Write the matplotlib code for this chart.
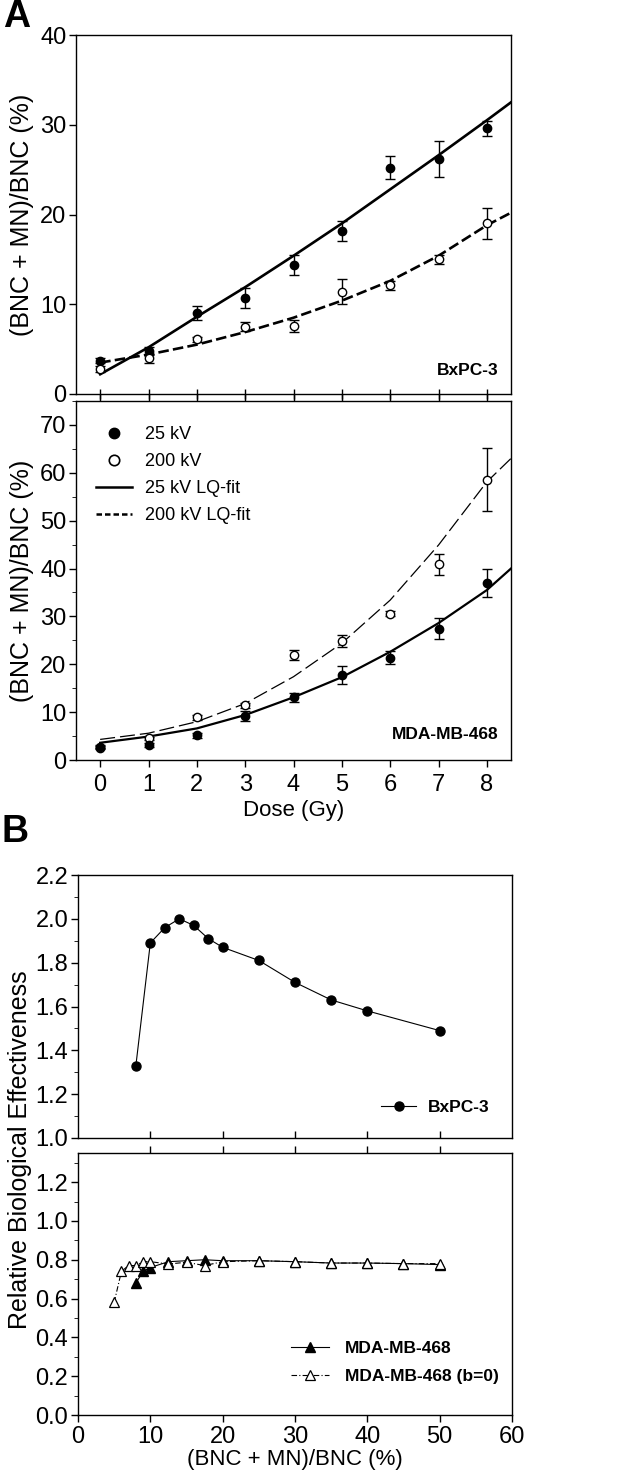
import numpy as np
import matplotlib.pyplot as plt
from matplotlib.lines import Line2D
from matplotlib.ticker import MultipleLocator

plt.rcParams['font.family'] = ['Liberation Sans', 'DejaVu Sans']

# ---- panel A data: dose response ----
dose = [0, 1, 2, 3, 4, 5, 6, 7, 8]
fit_dose = [0, 1, 2, 3, 4, 5, 6, 7, 8, 8.5]

# BxPC-3
bx_25 = [3.7, 4.8, 9.0, 10.7, 14.4, 18.2, 25.2, 26.2, 29.6]
bx_25_err = [0.3, 0.4, 0.8, 1.1, 1.1, 1.1, 1.3, 2.0, 0.8]
bx_200 = [2.8, 4.0, 6.1, 7.5, 7.6, 11.4, 12.1, 15.0, 19.0]
bx_200_err = [0.3, 0.5, 0.3, 0.5, 0.7, 1.4, 0.5, 0.5, 1.7]
bx_25_fit = [2.2, 5.2, 8.6, 11.9, 15.4, 19.0, 22.8, 26.6, 30.5, 32.5]
bx_200_fit = [3.5, 4.4, 5.5, 6.9, 8.5, 10.4, 12.6, 15.4, 18.8, 20.2]

# MDA-MB-468
md_25 = [2.8, 3.1, 5.2, 9.2, 13.1, 17.8, 21.4, 27.4, 36.9]
md_25_err = [0.3, 0.4, 0.5, 1.0, 1.0, 1.9, 1.3, 2.2, 2.9]
md_200 = [2.6, 4.5, 8.9, 11.4, 21.9, 24.9, 30.6, 40.9, 58.6]
md_200_err = [0.3, 0.4, 0.6, 0.6, 1.0, 1.3, 0.5, 2.2, 6.5]
md_25_fit = [3.6, 4.9, 6.6, 9.4, 13.1, 17.3, 22.6, 28.6, 35.5, 40.0]
md_200_fit = [4.3, 5.6, 8.0, 11.8, 17.4, 24.4, 33.4, 44.9, 58.1, 63.0]

# ---- panel B data: RBE vs effect level ----
bx_level = [8, 10, 12, 14, 16, 18, 20, 25, 30, 35, 40, 50]
bx_rbe = [1.33, 1.89, 1.96, 2.00, 1.97, 1.91, 1.87, 1.81, 1.71, 1.63, 1.58, 1.49]

md_level = [8, 9, 10, 12.5, 15, 17.5, 20, 25, 30, 35, 40, 45, 50]
md_rbe = [0.68, 0.74, 0.76, 0.79, 0.795, 0.80, 0.795, 0.795, 0.79, 0.783, 0.783, 0.78, 0.775]

md0_level = [5, 6, 7, 8, 9, 10, 12.5, 15, 17.5, 20, 25, 30, 35, 40, 45, 50]
md0_rbe = [0.58, 0.74, 0.77, 0.77, 0.79, 0.79, 0.778, 0.787, 0.77, 0.79, 0.795, 0.79,
           0.783, 0.783, 0.78, 0.78]

W, H = 644, 1484
fig = plt.figure(figsize=(W / 100, H / 100), dpi=100)


def box(l, t, r, b):
    return [l / W, 1 - b / H, (r - l) / W, (b - t) / H]


ax1 = fig.add_axes(box(76, 35, 511, 394))
ax2 = fig.add_axes(box(76, 401, 511, 760))
ax3 = fig.add_axes(box(78, 875, 512, 1138))
ax4 = fig.add_axes(box(78, 1153, 512, 1415))

fs = 17       # tick labels
lab_fs = 16   # horizontal axis titles
ylab_fs = 18  # rotated axis titles
ebkw = dict(fmt='none', ecolor='black', elinewidth=1.0, capsize=3.5, capthick=1.0, zorder=3)

# A top
ax1.errorbar(dose, bx_25, yerr=bx_25_err, **ebkw)
ax1.errorbar(dose, bx_200, yerr=bx_200_err, **ebkw)
ax1.plot(fit_dose, bx_25_fit, color='black', lw=1.9, zorder=2)
ax1.plot(fit_dose, bx_200_fit, color='black', lw=1.9, dashes=(4, 1.6), zorder=2)
ax1.plot(dose, bx_25, 'o', ms=6, mfc='black', mec='black', zorder=4)
ax1.plot(dose, bx_200, 'o', ms=6, mfc='white', mec='black', mew=1.0, zorder=4)
ax1.set_xlim(-0.5, 8.5)
ax1.set_ylim(0, 40)
ax1.set_yticks([0, 10, 20, 30, 40])
ax1.set_xticks(dose)
ax1.tick_params(axis='x', direction='inout', length=7, labelbottom=False)
ax1.tick_params(axis='y', direction='out', length=5, labelsize=fs, pad=2)
ax1.text(8.25, 2.6, 'BxPC-3', fontsize=12.5, fontweight='bold', ha='right', va='center')

# A bottom
ax2.errorbar(dose, md_25, yerr=md_25_err, **ebkw)
ax2.errorbar(dose, md_200, yerr=md_200_err, **ebkw)
ax2.plot(fit_dose, md_25_fit, color='black', lw=1.6, zorder=2)
ax2.plot(fit_dose, md_200_fit, color='black', lw=0.9, dashes=(12, 4), zorder=2)
ax2.plot(dose, md_200, 'o', ms=6, mfc='white', mec='black', mew=1.0, zorder=4)
ax2.plot(dose, md_25, 'o', ms=6, mfc='black', mec='black', zorder=4)
ax2.set_xlim(-0.5, 8.5)
ax2.set_ylim(0, 75)
ax2.set_yticks([0, 10, 20, 30, 40, 50, 60, 70])
ax2.yaxis.set_minor_locator(MultipleLocator(5))
ax2.set_xticks(dose)
ax2.tick_params(axis='x', direction='out', length=5, labelsize=fs, top=True, pad=5)
ax2.tick_params(axis='y', which='both', direction='out', labelsize=fs, pad=2)
ax2.tick_params(axis='y', which='major', length=5)
ax2.tick_params(axis='y', which='minor', length=3)
for t in ax2.xaxis.get_major_ticks():
    t.tick2line.set_marker(3)
    t.tick2line.set_markersize(5)
ax2.set_xlabel('Dose (Gy)', fontsize=lab_fs, labelpad=3)
ax2.text(8.25, 5.3, 'MDA-MB-468', fontsize=12.5, fontweight='bold', ha='right', va='center')

handles = [
    Line2D([], [], ls='none', marker='o', ms=7.5, mfc='black', mec='black'),
    Line2D([], [], ls='none', marker='o', ms=7.5, mfc='white', mec='black', mew=1.2),
    Line2D([], [], color='black', lw=1.8),
    Line2D([], [], color='black', lw=1.8, dashes=(2.2, 1.2)),
]
ax2.legend(handles, ['25 kV', '200 kV', '25 kV LQ-fit', '200 kV LQ-fit'],
           loc='upper left', bbox_to_anchor=(0.03, 0.95), frameon=False,
           fontsize=13, handlelength=2.0, handletextpad=0.7, labelspacing=0.55,
           borderaxespad=0)

for ax in (ax1, ax2):
    ax.set_ylabel('(BNC + MN)/BNC (%)', fontsize=ylab_fs, labelpad=4)

# B top
ax3.plot(bx_level, bx_rbe, '-o', color='black', lw=0.8, ms=6.5, label='BxPC-3')
ax3.set_xlim(0, 60)
ax3.set_ylim(1.0, 2.2)
ax3.set_yticks([1.0, 1.2, 1.4, 1.6, 1.8, 2.0, 2.2])
ax3.yaxis.set_major_formatter(plt.FormatStrFormatter('%.1f'))
ax3.yaxis.set_minor_locator(MultipleLocator(0.1))
ax3.set_xticks([10, 20, 30, 40, 50])
ax3.tick_params(axis='x', direction='in', length=5, labelbottom=False)
ax3.tick_params(axis='y', which='both', direction='out', labelsize=fs, pad=2)
ax3.tick_params(axis='y', which='major', length=5)
ax3.tick_params(axis='y', which='minor', length=3)
ax3.legend(loc='lower right', bbox_to_anchor=(0.965, 0.06), frameon=False,
           prop={'size': 12.5, 'weight': 'bold'}, handlelength=2.0, handletextpad=0.7,
           borderaxespad=0)

# B bottom
ax4.plot(md_level, md_rbe, '-^', color='black', lw=0.8, ms=6.5, mfc='black',
         label='MDA-MB-468', zorder=2)
ax4.plot(md0_level, md0_rbe, '^', color='black', lw=0.8, ms=6.5, mfc='white',
         mew=0.9, ls=(0, (5, 2, 1, 2)), label='MDA-MB-468 (b=0)', zorder=3)
ax4.set_xlim(0, 60)
ax4.set_ylim(0, 1.35)
ax4.set_yticks([0.0, 0.2, 0.4, 0.6, 0.8, 1.0, 1.2])
ax4.yaxis.set_major_formatter(plt.FormatStrFormatter('%.1f'))
ax4.yaxis.set_minor_locator(MultipleLocator(0.1))
ax4.set_xticks([0, 10, 20, 30, 40, 50, 60])
ax4.tick_params(axis='x', direction='out', length=5, labelsize=fs, pad=3)
ax4.tick_params(axis='y', which='both', direction='out', labelsize=fs, pad=2)
ax4.tick_params(axis='y', which='major', length=5)
ax4.tick_params(axis='y', which='minor', length=3)
for t in ax4.xaxis.get_major_ticks()[1:-1]:
    t.tick2line.set_visible(True)
    t.tick2line.set_marker(3)
    t.tick2line.set_markersize(5)
ax4.set_xlabel('(BNC + MN)/BNC (%)', fontsize=lab_fs, labelpad=1)
ax4.legend(loc='lower right', bbox_to_anchor=(0.985, 0.09), frameon=False,
           prop={'size': 12.5, 'weight': 'bold'}, handlelength=2.2, handletextpad=0.9,
           labelspacing=0.75, borderaxespad=0)

fig.text(20 / W, 1 - 1150 / H, 'Relative Biological Effectiveness', rotation=90,
         fontsize=ylab_fs, ha='center', va='center')

for ax in (ax1, ax2, ax3, ax4):
    for s in ax.spines.values():
        s.set_linewidth(1.0)
    ax.tick_params(width=1.0)

fig.text(3 / W, 1 - 17 / H, 'A', fontsize=27, fontweight='bold', ha='left', va='center')
fig.text(2 / W, 1 - 832 / H, 'B', fontsize=27, fontweight='bold', ha='left', va='center')

fig.savefig('out.png', dpi=100)
